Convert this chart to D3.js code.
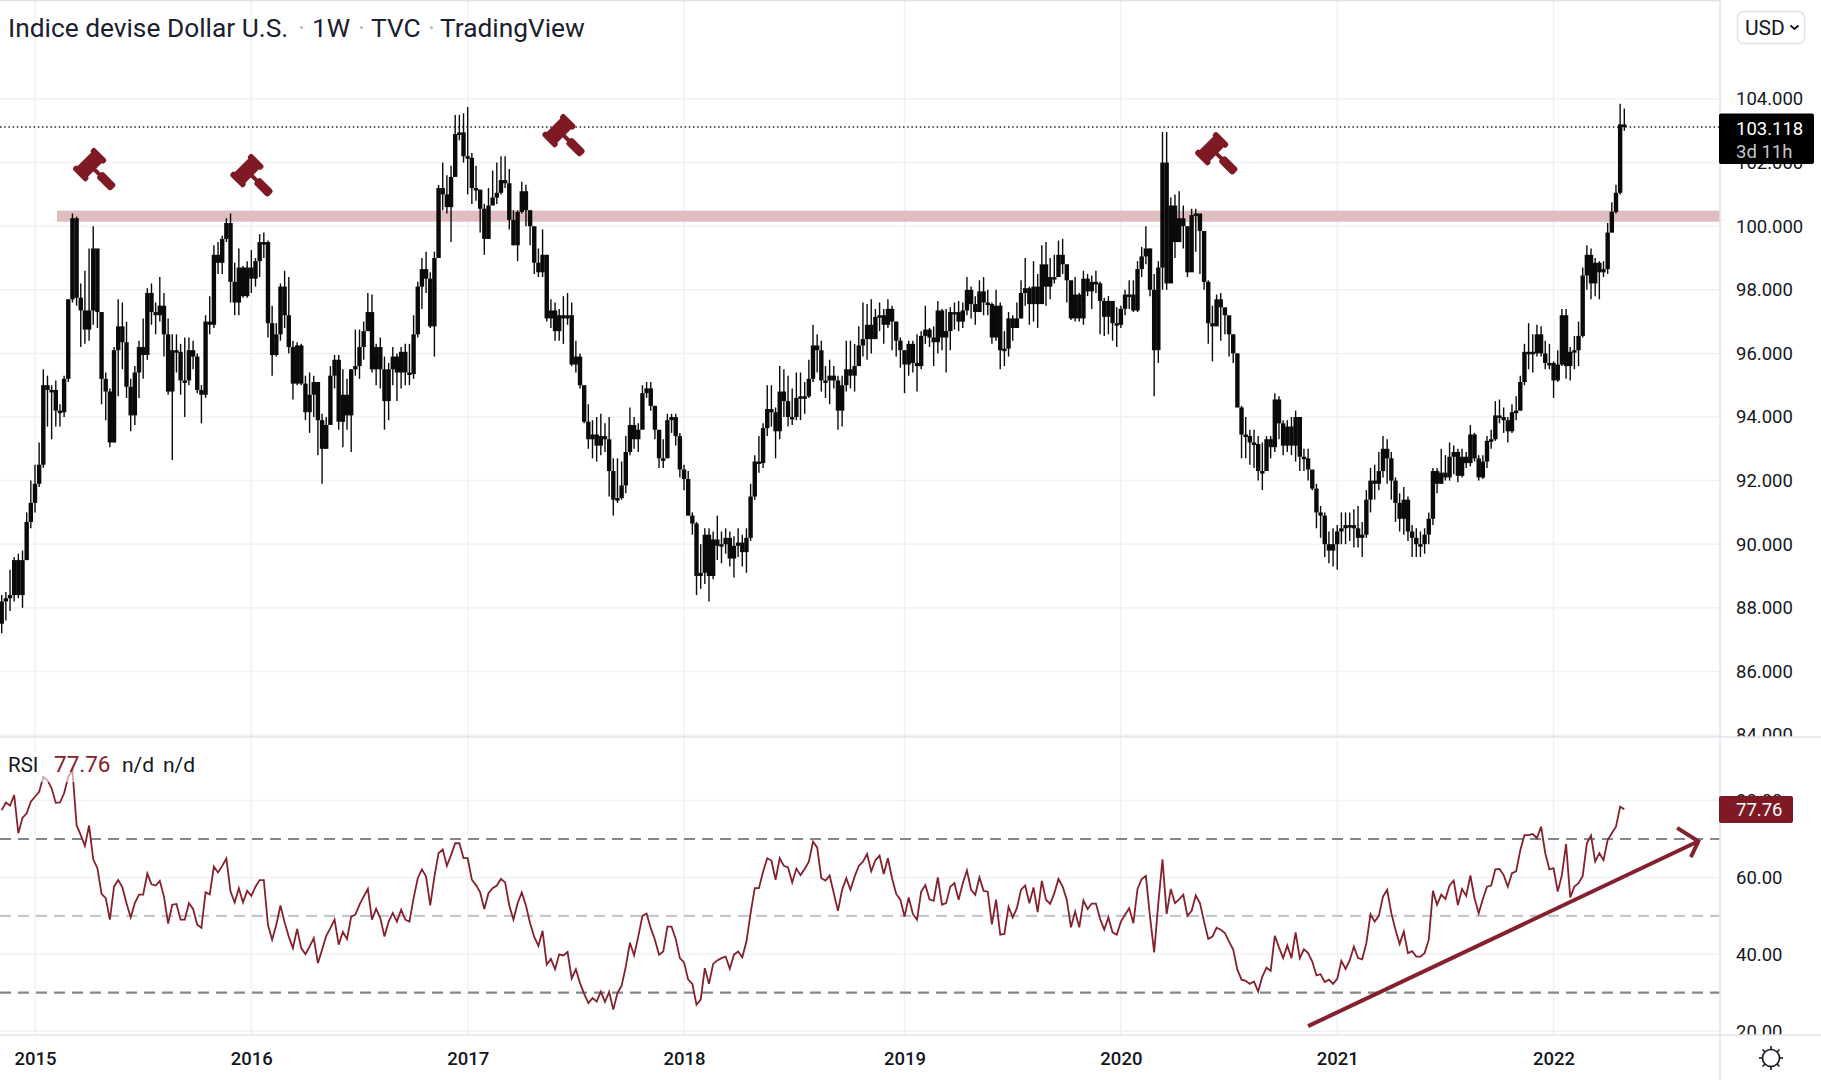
<!DOCTYPE html>
<html>
<head>
<meta charset="utf-8">
<script src="https://cdnjs.cloudflare.com/ajax/libs/d3/7.8.5/d3.min.js"></script>
<style>
    html, body { margin: 0; background: #fff; overflow: hidden; }
    text { font-family: Roboto, sans-serif; fill: #131722; }
</style>
</head>
<body>
<div id="chart"></div>
<script>
// weekly bars, index 0 = first week of 2015, open is the previous close
const closes = [
    88.2,88.3,88.4,89.5,88.4,89.5,90.7,91.3,
    91.9,92.5,95,94.85,94.85,94.2,94.15,95.2,97.7,100.25,
    97.75,97.35,96.75,97.35,99.3,97.3,95.2,94.8,93.2,96.1,
    96.85,96.35,94.95,94.05,95.4,96.2,95.95,97.9,97.3,97.2,
    97.5,96.6,94.8,96.1,96.05,95.15,95.15,96.1,95.9,94.85,
    94.7,97,96.9,99.1,98.85,99.6,100.1,98.25,97.6,98.7,
    97.8,98.7,98.35,98.9,99.5,99.5,96.95,95.95,96.6,98.1,
    97.2,96.2,95.05,96.25,95.05,94.15,94.7,95.1,93.9,93,
    93.75,95.3,95.8,93.85,94.7,94.05,95.5,95.6,96.2,96.7,
    97.3,95.5,96.2,95.5,94.5,95.5,95.9,95.4,96.05,95.4,
    95.35,96.6,98.1,98.65,98.35,96.85,99,101.2,101,100.6,
    101.55,102.9,102.95,102.2,102.15,101.2,101.15,100.55,99.6,100.65,
    100.9,101.05,101.45,101.35,100.2,99.4,100.45,101.1,100.5,100,
    98.85,98.55,99.1,97.1,97.35,96.7,97.2,97.1,97.2,95.65,
    95.9,95,93.85,93.3,93.45,93.1,93.4,93.3,92.3,91.4,
    91.45,91.85,92.9,93.75,93.3,93.6,94.75,94.9,94.35,93.6,
    92.7,92.7,93.9,94,93.4,92.35,92.05,90.9,90.65,89,
    89.1,90.3,89,90.15,89.95,90,90.2,89.55,89.95,90.05,
    89.75,90.2,91.5,92.6,92.55,93.65,94.25,94.15,93.55,94.8,
    94.5,94,94,94.6,94.65,94.65,95.2,96.25,96.1,95.15,
    95.15,95.3,95.15,94.2,95,95.5,95.3,95.6,96.25,96.45,
    96.9,96.45,97.15,97.2,96.9,97.4,97,96.4,96.1,95.65,
    96.3,95.7,95.6,96.55,96.75,96.5,96.35,97.35,96.5,96.7,
    97.3,97.3,97,97.35,98,97.55,97.3,97.95,97.6,97.55,
    96.5,97.5,96.1,96.15,97.1,96.8,97.1,97.9,98.05,97.55,
    98.1,97.55,98.8,98.1,98.4,98.4,99.1,98.8,98.3,97.1,
    97.85,97.1,98.35,97.95,98.25,98.2,97.65,97.15,97.65,96.95,
    96.9,97.4,97.85,97.85,97.35,98.65,99.05,99.3,98,96.1,
    98.7,102,98.2,100.65,99.5,100.25,100,98.55,100.35,100.4,
    99.85,98.25,96.95,96.85,97.7,97.45,97.2,96.6,96,94.3,
    93.45,93.4,93.2,93.15,92.3,92.3,93.3,93.05,94.55,93.8,
    93.1,93.7,93.1,94,92.75,92.7,92.35,91.75,91,90.9,
    90,89.8,90,90.4,90.5,90.6,90.6,90.5,90.2,90.3,
    91.4,92,91.9,92.3,93,92.7,92,91.3,90.8,91.4,
    90.4,90.2,90,90,90.3,90.8,92.3,91.9,92.25,92.1,
    92.75,92.9,92.15,92.75,92.55,93.45,92.7,92.1,92.6,93.25,
    93.3,94.05,94,93.9,93.55,94.15,94.2,95.1,96.05,96.05,
    96,96.6,96,95.7,95.7,95.15,95.65,97.2,95.6,96.05,
    96.1,96.55,98.45,99.1,98.2,98.85,98.55,98.65,99.8,100.45,
    101.05,103.2,103.118
];

const highs = [
    88.4,88.5,89.2,89.6,89.7,89.8,91,92,
    92.5,93.2,95.5,95.3,95,95.15,94.4,95.3,97.7,100.4,
    100.3,98.2,98.6,99.3,100,98.65,97.3,95.4,94.9,96.2,
    97.7,97.6,97,95.2,95.6,96.4,97.1,98.05,98.2,97.6,
    98.4,97.9,97.1,96.6,96.6,96.3,96.5,96.5,96.4,96,
    95,97.2,97.8,99.4,99.5,99.7,100.25,100.4,98.85,99.3,
    98.75,98.9,99.25,99,99.75,99.8,99.55,97.5,96.95,98.2,
    98.6,98.4,96.4,96.35,96.3,95.3,95.4,95.3,95,94.1,
    94,95.6,95.95,95.95,95.5,95.2,95.5,96.75,96.75,97,
    97.9,97.85,96.3,96.5,95.9,95.7,96.2,96,96.2,96.3,
    96.3,97.2,98.25,99,99.2,98.55,99.2,101.3,102,101.6,
    101.9,103.5,103.5,103.55,103.75,102.3,101.9,101,100.7,101.2,
    101.75,102,102.2,102.2,101.8,100.5,100.5,101.4,101.3,100.5,
    99.4,99.3,99.9,99.1,97.7,97.6,97.4,97.8,97.9,97.6,
    96.4,96,95,94.4,93.9,94,94.1,93.8,94,92.7,
    92.7,92.6,93.4,94.3,94,93.8,95,95.1,95.1,94.35,
    93.5,93.3,94.1,94.1,94.1,93.5,92.5,92.3,91,90.7,
    90,90.5,90.5,90.4,90.9,90.4,90.5,90.4,90.25,90.5,
    90.3,90.5,91.9,92.8,93.4,93.8,95,95,94.3,95.6,
    95.5,95.3,94.9,95.4,95.4,95.1,95.8,96.9,96.6,96.4,
    95.6,95.8,95.6,95.3,95.3,96.4,96.4,96.3,96.85,97.6,
    97.55,97.7,97.4,97.6,97.4,97.7,97.5,97,96.5,96.1,
    96.4,96.4,96.6,96.7,97.5,96.8,96.85,97.65,97.4,97.4,
    97.45,97.6,97.65,97.6,98.4,98.1,97.8,98.3,98.4,98,
    97.6,98,97.6,96.7,97.3,97.2,97.6,98.3,99,98.1,
    98.9,98.5,99.4,99.5,99,99.1,99.55,99.6,98.8,98.2,
    98.4,97.9,98.6,98.5,98.45,98.6,98.25,97.75,97.8,97.6,
    97.45,97.5,98,98.3,98.3,98.9,99.35,100,99.3,98.5,
    98.9,102.96,102.96,100.9,101,101.1,100.65,100,100.55,100.55,
    100.3,99.85,98.3,97.5,97.85,97.9,97.3,97.1,96.6,96,
    94.35,94,93.6,93.6,93.4,93.2,93.4,93.4,94.75,94.65,
    93.9,93.9,94,94.2,93.9,93,93,92.3,91.9,91.2,
    91,90.4,90.5,90.6,91,91,91,91.1,91.2,90.7,
    91.7,92.4,92.5,92.9,93.4,93.3,92.9,92.1,91.6,91.8,
    91.5,90.6,90.5,90.4,90.5,91,92.4,92.4,93,92.8,
    93.2,93.1,93,93,92.9,93.75,93.5,92.8,92.8,93.4,
    93.6,94.5,94.55,94.3,94,94.4,94.65,95.3,96.3,96.95,
    96.6,96.9,96.85,96.4,96.3,95.75,96.1,97.4,97.4,96.2,
    96.55,97,98.7,99.4,99.3,99,98.9,98.9,100.1,100.75,
    101.3,103.85,103.7
];

const lows = [
    87.2,87.6,87.9,88.2,88.3,88,89.5,90.5,
    91,91.8,92.4,93.7,93.3,93.7,93.7,94,95.1,97.6,
    97.5,96.2,96.3,96.4,96.9,96.8,94.4,93.9,93.05,93.2,
    94.65,95.5,94.6,93.55,93.75,94.6,95.2,95.8,96.9,96.6,
    97,95.9,94.7,92.65,95.4,94.7,94,95,95.5,94.75,
    93.8,94.6,96.6,96.8,98.5,98.5,99.5,97.6,97.2,97.2,
    97.75,97.75,97.9,98.1,98.4,99,96.5,95.3,95.9,96.4,
    96.8,96,94.55,95,95,93.9,93.5,94,92.8,91.9,
    93,94.3,94.9,93.6,93.05,93.6,92.9,95.3,95.2,95.8,
    96.8,95.4,95,94.9,93.6,93.9,95,94.5,94.9,95,
    95,95.2,96.5,97.4,97.9,96.8,95.9,99,100.5,100.4,
    99.5,101.6,102.7,102,101,100.7,100.8,99.8,99.1,99.6,
    100.7,100.7,101,101.2,99.9,99.4,98.9,100.4,100,99.4,
    98.5,98.4,98.4,97,96.8,96.4,96.4,96.3,96.9,95.6,
    95.4,94.9,93.8,93,92.7,92.6,92.8,92.9,91.5,90.9,
    91.3,91.4,91.6,92.8,93,92.9,93.8,94.6,94.2,93.3,
    92.4,92.4,93,93.5,93.1,92.1,91.7,90.9,90.3,88.4,
    88.6,88.75,88.2,88.9,89.5,89.4,89.7,89.3,88.95,89.6,
    89.3,89.1,90.1,91.4,92.25,92.4,93.4,93.7,92.7,93.3,
    94,93.7,93.75,93.9,93.9,94.1,94.6,95.1,95.4,94.8,
    94.6,94.4,94.9,93.6,93.7,94.8,94.9,94.8,95.6,95.9,
    95.8,96,96.6,96.7,96.3,96.8,96.1,95.9,95.55,94.75,
    95.3,95.4,94.8,95.5,96.3,96.2,95.6,96,96.1,95.4,
    96.1,96.75,96.7,96.8,97.2,97.1,96.9,97.4,97.2,97.2,
    96.3,96.4,95.5,95.6,95.9,96.4,96.8,97.1,97.5,96.9,
    97,96.8,97.6,97.5,97.7,98.2,98.4,98.5,97.6,97.05,
    97,97,96.9,97.8,97.4,97.9,96.6,96.55,96.6,96.4,
    96.2,96.8,97.2,97.4,97.3,97.3,98.4,98.8,97.8,94.65,
    95.7,98,98,99.4,99,99.6,99.3,98.4,99.15,99.2,
    98.5,98,96.3,95.75,96.9,96.4,96.6,95.9,95.7,94.3,
    92.7,92.7,92.5,92.4,92,91.7,92.6,92.7,92.9,93.3,
    92.8,92.9,92.8,92.6,92.3,92.3,92,91.7,90.5,90.2,
    89.6,89.4,89.3,89.2,90,90,90.1,89.9,89.9,89.6,
    90.2,91,91.4,91.7,92.1,91.9,91.4,90.7,90.4,90.3,
    90.1,89.6,89.6,89.6,89.7,90,90.6,91.6,91.9,92,
    92,92.2,91.95,92.1,92.4,92.45,92.6,92,92.05,92.4,
    93,93.25,93.8,93.5,93.2,93.5,93.9,94.2,95,95.5,
    95.4,95.9,95.9,95.5,95.5,94.6,95.1,95.6,95.2,95.15,
    95.5,95.6,96.5,98,97.7,97.8,97.7,98.4,98.5,99.8,
    100.4,101,103
];

const rsiValues = [
    77.5,79.5,78.7,81.4,71.5,75.5,76.7,79.7,
    81,82.3,86.2,85.3,83.2,79.4,79.5,81.9,86.2,87.9,
    73.6,71,68.2,73.5,64.7,62.4,55.7,54.6,49,57.6,
    59.3,57.4,53.3,49.6,53.3,55.5,55.5,61,58.2,57.9,
    59.1,55,48,52.9,53.1,49,49,53.3,51.8,47.7,
    46.9,56.1,55.6,62.8,61.3,63,64.9,56.3,53.5,57.2,
    53.5,56.5,55.2,57.6,59.3,59.3,47.6,43.8,47.7,52.7,
    48.3,44.6,41.6,46.6,41.6,40,42,44.2,37.7,41.2,
    44.8,46.8,49,42.5,45.8,44,49.8,50.3,52.9,55,
    57,49,51.8,49.4,44.6,48.5,50.7,48.5,51.6,49,
    48.5,54.6,59.8,62.1,60.2,52.7,60.2,66.3,67.3,63,
    65.8,68.9,68.9,65,65,59.4,58,56.1,51.8,55.9,
    57.2,57.9,59.6,58.7,52.7,49,53.3,56.1,52.7,48.1,
    44.5,42.2,46.1,37.3,38.8,36.1,40,39.7,40.6,33.7,
    36.1,32.5,29.7,27.3,28.6,27.7,30.3,27.6,30.2,25.6,
    29.9,31.8,36.8,43,39.7,44.6,50,50.6,46.8,43.8,
    39.9,40.7,47.2,47.2,44,39,37.9,33.4,32.3,26.9,
    28.2,36.4,32.3,37.5,38.4,39,39.4,36.2,39.9,40.7,
    39.2,43.3,50.7,57.2,57.2,61.5,65,64.4,59.4,65,
    63,62.6,58.7,62.3,60.6,62.2,64.1,69.3,67.8,59.8,
    59.2,60.5,55.9,51.3,56.8,59.8,56.8,60.2,63,64.1,
    66.1,61.6,64.5,65.7,60.9,65,59.8,55.7,54.2,49.8,
    54.8,50.5,49,56.3,58,54.3,53.9,60,52.9,53.3,
    57.6,58.5,54.2,58.5,61.8,56.8,55.5,60,56.5,56.3,
    47.8,54.2,45.1,45.3,52.4,49.6,52,56.8,57.9,53.3,
    57.4,51,59.1,54.2,53.1,55.9,59.6,57.6,54.2,47,
    51.1,47,54,51.8,53.2,53.2,49.2,46.4,49.6,45.7,
    45.1,48.5,50.3,52,48.1,57,59.6,60.4,49.8,40.5,
    53.3,64.7,50.5,57,53.3,54.3,55.5,50,51.3,55.3,
    53.3,48.5,44,44.6,46.9,46.4,45.5,43.3,41.2,36,
    33.4,33.1,32.3,32.9,30.3,34.2,36.5,35.7,44.8,41.8,
    39,42.3,39,45.7,39,41.3,40.3,38.1,34.5,34.8,
    32.8,33.4,32.3,33.6,38.3,36.2,38.4,42,39,38.7,
    42.9,50.4,48.5,50,55,56.8,50.7,46.4,42.7,45.9,
    40.3,40.8,39.4,39.4,40.3,43.8,56.5,52.9,55.5,54.4,
    57.9,59.2,52.8,57,55.2,60.5,54.6,50.7,54.4,57.6,
    57.9,62.1,62.2,60.6,57.6,61.1,61.6,67.1,71,71,
    71.3,70.2,73.2,66.3,62.1,62.4,56.3,60.6,68.7,54.8,
    57.6,58.5,60.4,68.9,70.9,64.1,66.3,64.5,69.7,71.5,
    73.2,78.4,77.76
];

const firstWeek = -8;
const yearWeeks = [0, 52, 104, 156, 209, 261, 313, 365];
const yearLabels = ['2015', '2016', '2017', '2018', '2019', '2020', '2021', '2022'];
const priceTicks = d3.range(84, 105, 2);
const rsiTicks = [20, 40, 60, 80];
const rsiBands = [70, 50, 30];
const lastPrice = 103.118;
const lastRsi = 77.76;

// gavels and the resistance band, in chart units
const gavelWeeks = [14.4, 52.2, 127.2, 284.1];
const gavelPrices = [101.77, 101.58, 102.84, 102.27];
const bandTop = 100.49;
const bandBottom = 100.14;
const bandStartWeek = 5.3;

// rsi trend arrow: start, tip, then the two head ends
const arrowWeeks = [306, 399.8, 394.7, 398];
const arrowRsi = [21.3, 69.4, 72.9, 65.3];

const dimensions = { width: 1821, height: 1080 };
const paneRight = 1720;
const mainBottom = 737;
const rsiBottom = 1035;
const darkRed = '#85202d';
const gavelRed = '#7f1a25';

const svg = d3.select('#chart')
    .append('svg')
    .attr('width', dimensions.width)
    .attr('height', dimensions.height)
    .style('display', 'block');

const x = d3.scaleLinear().domain([-8.41, 405]).range([0, paneRight]);
const y = d3.scaleLinear().domain([104, 84]).range([99, 735]);
const yRsi = d3.scaleLinear().domain([70, 30]).range([839, 992.7]);

const defs = svg.append('defs');
const addClip = (id, top, left, bottom, right) => defs.append('clipPath').attr('id', id)
    .append('rect').attr('x', left).attr('y', top)
    .attr('width', right - left).attr('height', bottom - top);
addClip('main-clip', 0, 0, mainBottom, paneRight);
addClip('rsi-clip', mainBottom, 0, rsiBottom, paneRight);
addClip('main-axis-clip', 0, paneRight, mainBottom, dimensions.width);
addClip('rsi-axis-clip', mainBottom, paneRight, rsiBottom, dimensions.width);

const bars = closes.map((close, i) => ({
    week: firstWeek + i,
    open: i ? closes[i - 1] : 87.5,
    close,
    high: highs[i],
    low: lows[i]
}));

// grid
const gridGroup = svg.append('g').attr('stroke', '#f0f2f6').attr('stroke-width', 1.5);
gridGroup.selectAll('.grid-x').data(yearWeeks).enter().append('line')
    .attr('x1', d => x(d)).attr('x2', d => x(d))
    .attr('y1', 0).attr('y2', rsiBottom);
gridGroup.selectAll('.grid-y').data(priceTicks).enter().append('line')
    .attr('x1', 0).attr('x2', paneRight)
    .attr('y1', d => y(d)).attr('y2', d => y(d));
gridGroup.selectAll('.grid-rsi').data(rsiTicks).enter().append('line')
    .attr('x1', 0).attr('x2', paneRight)
    .attr('y1', d => yRsi(d)).attr('y2', d => yRsi(d));

// main pane
const mainPane = svg.append('g').attr('clip-path', 'url(#main-clip)');

mainPane.append('rect')
    .attr('x', x(bandStartWeek))
    .attr('y', y(bandTop))
    .attr('width', paneRight - x(bandStartWeek))
    .attr('height', y(bandBottom) - y(bandTop))
    .attr('fill', '#dfbdc1');

mainPane.selectAll('.wick').data(bars).enter().append('line')
    .attr('class', 'wick')
    .attr('x1', d => x(d.week)).attr('x2', d => x(d.week))
    .attr('y1', d => y(d.high)).attr('y2', d => y(d.low))
    .attr('stroke', '#0a0a0a').attr('stroke-width', 1.4);

mainPane.selectAll('.body').data(bars).enter().append('rect')
    .attr('class', 'body')
    .attr('x', d => x(d.week) - 2.2)
    .attr('width', 4.4)
    .attr('y', d => y(Math.max(d.open, d.close)))
    .attr('height', d => Math.max(2.5, Math.abs(y(d.open) - y(d.close))))
    .attr('fill', '#0a0a0a');

mainPane.append('line')
    .attr('x1', 0).attr('x2', paneRight)
    .attr('y1', y(lastPrice)).attr('y2', y(lastPrice))
    .attr('stroke', '#222').attr('stroke-width', 1.6)
    .attr('stroke-dasharray', '1.5 2.7');

// gavels
const gavels = svg.append('g').attr('fill', gavelRed);
gavelWeeks.forEach((week, i) => {
    const g = gavels.append('g')
        .attr('transform', `translate(${x(week)}, ${y(gavelPrices[i])}) rotate(45)`);
    g.append('rect').attr('x', -15).attr('y', -12).attr('width', 15).attr('height', 24).attr('rx', 1.5);
    g.append('rect').attr('x', -17).attr('y', -15.5).attr('width', 19).attr('height', 6).attr('rx', 2.5);
    g.append('rect').attr('x', -17).attr('y', 9.5).attr('width', 19).attr('height', 6).attr('rx', 2.5);
    g.append('rect').attr('x', -2).attr('y', -2).attr('width', 10).attr('height', 4);
    g.append('rect').attr('x', 6).attr('y', -4.5).attr('width', 20).attr('height', 9).attr('rx', 3);
});

// rsi pane
const rsiPane = svg.append('g').attr('clip-path', 'url(#rsi-clip)');

rsiBands.forEach(level => {
    rsiPane.append('line')
        .attr('x1', 0).attr('x2', paneRight)
        .attr('y1', yRsi(level)).attr('y2', yRsi(level))
        .attr('stroke', level === 50 ? '#c4c6ce' : '#85878f')
        .attr('stroke-width', 2.2)
        .attr('stroke-dasharray', '11 7');
});

const rsiLine = d3.line()
    .x((d, i) => x(firstWeek + i))
    .y(d => yRsi(d));

rsiPane.append('path')
    .attr('d', rsiLine(rsiValues))
    .attr('fill', 'none')
    .attr('stroke', darkRed)
    .attr('stroke-width', 1.8);

rsiPane.append('rect')
    .attr('x', 0).attr('y', 750).attr('width', 200).attr('height', 32)
    .attr('fill', '#fff').attr('opacity', 0.6);

// trend arrow
const arrowPoint = i => [x(arrowWeeks[i]), yRsi(arrowRsi[i])];
const arrow = svg.append('g')
    .attr('fill', 'none')
    .attr('stroke', darkRed)
    .attr('stroke-width', 4);
arrow.append('path').attr('d', d3.line()([arrowPoint(0), arrowPoint(1)]));
arrow.append('path').attr('d', d3.line()([arrowPoint(2), arrowPoint(1), arrowPoint(3)]));

// axes
const priceAxis = d3.axisRight(y)
    .tickValues(priceTicks)
    .tickSize(0)
    .tickPadding(0)
    .tickFormat(d3.format('.3f'));

const rsiAxis = d3.axisRight(yRsi)
    .tickValues(rsiTicks)
    .tickSize(0)
    .tickPadding(0)
    .tickFormat(d3.format('.2f'));

const timeAxis = d3.axisBottom(x)
    .tickValues(yearWeeks)
    .tickSize(0)
    .tickPadding(0)
    .tickFormat((d, i) => yearLabels[i]);

svg.append('g')
    .attr('clip-path', 'url(#main-axis-clip)')
    .append('g')
    .attr('transform', 'translate(1736, 0)')
    .call(priceAxis)
    .call(g => g.select('.domain').remove())
    .selectAll('text').style('font-size', '18.5px').attr('fill', '#131722');

svg.append('g')
    .attr('clip-path', 'url(#rsi-axis-clip)')
    .append('g')
    .attr('transform', 'translate(1736, 0)')
    .call(rsiAxis)
    .call(g => g.select('.domain').remove())
    .selectAll('text').style('font-size', '18.5px').attr('fill', '#131722');

svg.append('g')
    .attr('transform', `translate(0, 1052)`)
    .call(timeAxis)
    .call(g => g.select('.domain').remove())
    .selectAll('text')
    .style('font-size', '18.5px')
    .style('font-weight', 500)
    .attr('fill', '#131722');

// separators
const separators = svg.append('g').attr('stroke', '#e0e3eb').attr('stroke-width', 1.5);
separators.append('line').attr('x1', paneRight).attr('x2', paneRight).attr('y1', 0).attr('y2', dimensions.height);
separators.append('line').attr('x1', 0).attr('x2', dimensions.width).attr('y1', mainBottom).attr('y2', mainBottom);
separators.append('line').attr('x1', 0).attr('x2', dimensions.width).attr('y1', rsiBottom).attr('y2', rsiBottom);
separators.append('line').attr('x1', 0).attr('x2', paneRight).attr('y1', 0.5).attr('y2', 0.5);

// last price label
svg.append('rect')
    .attr('x', 1719).attr('y', 113.5)
    .attr('width', 95).attr('height', 50.5).attr('rx', 2)
    .attr('fill', '#000');
svg.append('text').attr('x', 1736).attr('y', 135)
    .style('font-size', '18.5px').style('fill', '#fff').text(d3.format('.3f')(lastPrice));
svg.append('text').attr('x', 1736).attr('y', 158)
    .style('font-size', '18.5px').style('fill', '#c4c6cc').text('3d 11h');

// last rsi label
svg.append('rect')
    .attr('x', 1719).attr('y', 796)
    .attr('width', 74).attr('height', 27).attr('rx', 2)
    .attr('fill', gavelRed);
svg.append('text').attr('x', 1736).attr('y', 816)
    .style('font-size', '18.5px').style('fill', '#fff').text(d3.format('.2f')(lastRsi));

// legends
const titleParts = [
    { text: 'Indice devise Dollar U.S.', x: 8 },
    { text: '·', x: 298, dot: true },
    { text: '1W', x: 312 },
    { text: '·', x: 358, dot: true },
    { text: 'TVC', x: 371 },
    { text: '·', x: 428, dot: true },
    { text: 'TradingView', x: 440 }
];
svg.selectAll('.title-part').data(titleParts).enter().append('text')
    .attr('class', 'title-part')
    .attr('x', d => d.x)
    .attr('y', 37)
    .style('font-size', '26.3px')
    .style('fill', d => d.dot ? '#b2b5be' : '#1b2030')
    .text(d => d.text);

const rsiLegend = [
    { text: 'RSI', x: 8, color: '#131722', size: 20.5 },
    { text: d3.format('.2f')(lastRsi), x: 54, color: darkRed, size: 22.5 },
    { text: 'n/d', x: 122, color: '#131722', size: 21 },
    { text: 'n/d', x: 163, color: '#131722', size: 21 }
];
svg.selectAll('.rsi-legend').data(rsiLegend).enter().append('text')
    .attr('class', 'rsi-legend')
    .attr('x', d => d.x)
    .attr('y', 772)
    .style('font-size', d => `${d.size}px`)
    .style('fill', d => d.color)
    .text(d => d.text);

// currency button
svg.append('rect')
    .attr('x', 1737.5).attr('y', 11.5)
    .attr('width', 67).attr('height', 32).attr('rx', 6)
    .attr('fill', '#fff').attr('stroke', '#dfe2e9').attr('stroke-width', 1.5);
svg.append('text').attr('x', 1745).attr('y', 35)
    .style('font-size', '21px').text('USD');
svg.append('path')
    .attr('d', 'M1790.5 25.5 L1794.5 29 L1798.5 25.5')
    .attr('fill', 'none').attr('stroke', '#131722').attr('stroke-width', 2);

// settings icon
const settings = svg.append('g')
    .attr('transform', 'translate(1771, 1058)')
    .attr('fill', 'none').attr('stroke', '#131722').attr('stroke-width', 1.6);
settings.append('circle').attr('r', 8.5);
d3.range(8).forEach(k => {
    const a = k * Math.PI / 4;
    settings.append('line')
        .attr('x1', 8.5 * Math.cos(a)).attr('y1', 8.5 * Math.sin(a))
        .attr('x2', 12 * Math.cos(a)).attr('y2', 12 * Math.sin(a));
});
</script>
</body>
</html>
